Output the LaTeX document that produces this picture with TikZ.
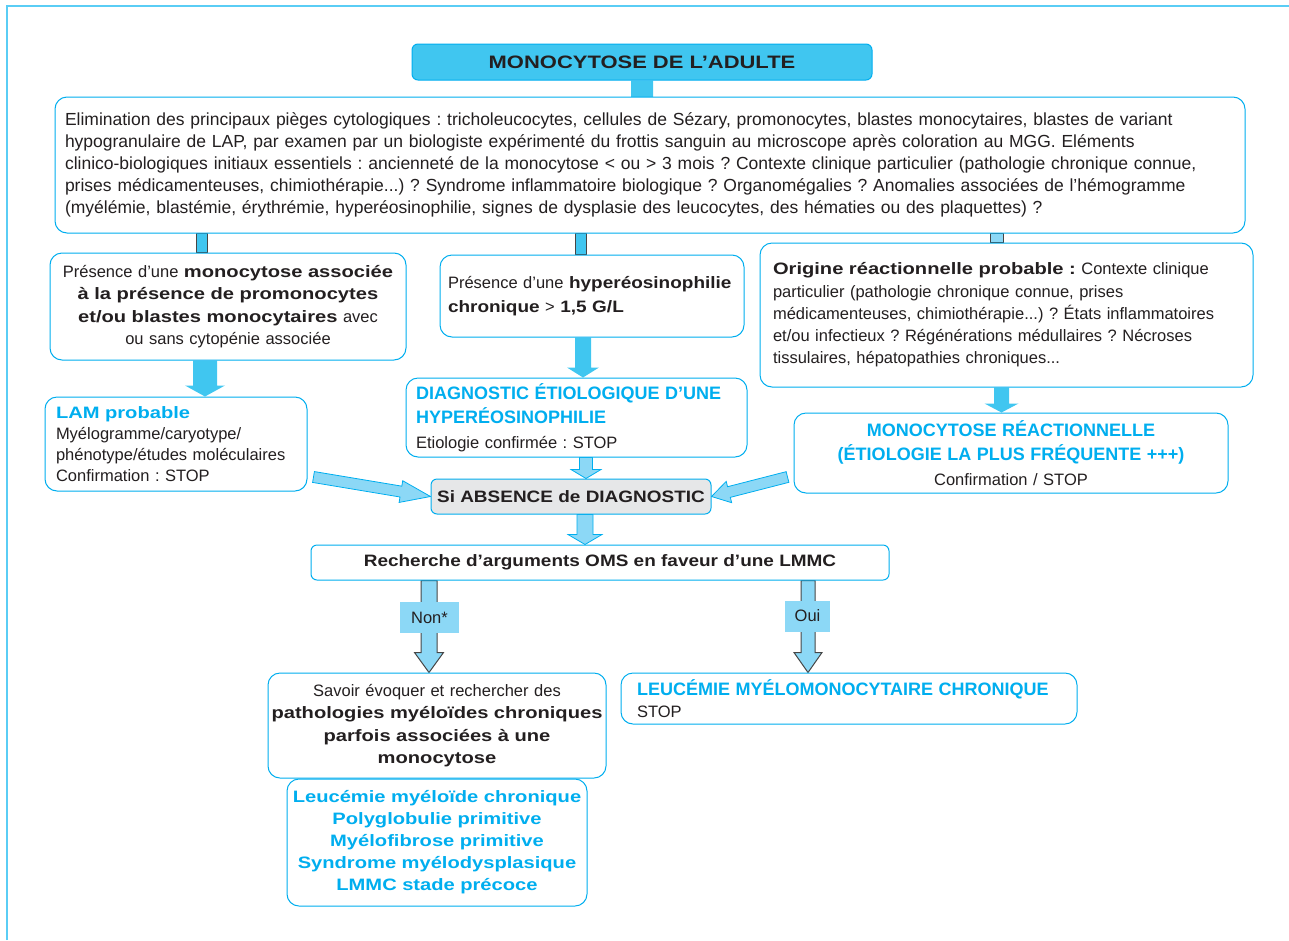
\documentclass[tikz,border=0pt]{standalone}
\usepackage{fontspec}
\setmainfont{Liberation Sans}
\newfontfamily\heavyfont{Liberation Sans}[FakeStretch=1.22]
\newfontfamily\midfont{Liberation Sans}[FakeStretch=1.15]
\usepackage{tikz}
\usetikzlibrary{calc,backgrounds}
\frenchspacing

\definecolor{cyanline}{RGB}{0,174,239}
\definecolor{titlefill}{RGB}{64,198,240}
\definecolor{arrowfill}{RGB}{140,216,246}
\definecolor{grayfill}{RGB}{230,231,232}
\definecolor{framecol}{RGB}{90,205,245}
\definecolor{textgray}{RGB}{35,31,32}
\definecolor{stubline}{RGB}{70,70,70}

\newcommand{\hv}[1]{{\heavyfont\bfseries #1}}
\newcommand{\md}[1]{{\midfont\bfseries #1}}
\newcommand{\bh}[1]{{\fontsize{18}{24}\selectfont\bfseries\color{cyanline}#1}}
\newcommand{\bhv}[1]{{\heavyfont\bfseries\color{cyanline}#1}}

% block arrow: [style]{start}{end}{half shaft}{half head}{head length}
\newcommand{\fatarrow}[6][]{%
  \coordinate (fa-s) at #2;
  \coordinate (fa-e) at #3;
  \coordinate (fa-c) at ($(fa-e)!#6!(fa-s)$);
  \draw[#1] ($(fa-s)!#4!90:(fa-e)$) -- ($(fa-c)!#4!90:(fa-e)$)
    -- ($(fa-c)!#5!90:(fa-e)$) -- (fa-e) -- ($(fa-c)!#5!-90:(fa-e)$)
    -- ($(fa-c)!#4!-90:(fa-e)$) -- ($(fa-s)!#4!-90:(fa-e)$) -- cycle;
}

\begin{document}
\begin{tikzpicture}[x=1pt,y=-1pt,
    every node/.style={text=textgray,font=\fontsize{16.5}{22.5}\selectfont},
    box/.style={draw=cyanline,line width=1pt,rounded corners=12pt,fill=white,inner ysep=0pt},
    flatbox/.style={box,rounded corners=6pt,font=\fontsize{16.5}{20}\midfont\bfseries},
    lbl/.style={fill=arrowfill,inner sep=0pt,minimum height=31pt},
    fatA/.style={fill=titlefill,draw=none},
    fatB/.style={fill=arrowfill,draw=cyanline,line width=0.8pt},
    fatC/.style={fill=arrowfill,draw=stubline,line width=1pt},
    stub/.style={fill=titlefill,draw=stubline,line width=1pt}]

  \useasboundingbox (0,0) rectangle (1289,940);

  % outer frame
  \draw[framecol,line width=2pt] (7,940) -- (7,6) -- (1289,6);

  % title
  \node[flatbox,fill=titlefill,minimum width=460pt,minimum height=36pt,
        font=\fontsize{18}{20}\heavyfont\bfseries] (title) at (642,62) {MONOCYTOSE DE L’ADULTE};

  % first screening
  \node[box,align=left,text width=1170pt,inner xsep=10pt,minimum height=136pt,
        font=\fontsize{17.5}{22}\selectfont] (elim) at (650,165)
    {Elimination des principaux pièges cytologiques : tricholeucocytes, cellules de Sézary, promonocytes, blastes monocytaires, blastes de variant\\
     hypogranulaire de LAP, par examen par un biologiste expérimenté du frottis sanguin au microscope après coloration au MGG. Eléments\\
     clinico-biologiques initiaux essentiels : ancienneté de la monocytose < ou > 3 mois ? Contexte clinique particulier (pathologie chronique connue,\\
     prises médicamenteuses, chimiothérapie...) ? Syndrome inflammatoire biologique ? Organomégalies ? Anomalies associées de l’hémogramme\\
     (myélémie, blastémie, érythrémie, hyperéosinophilie, signes de dysplasie des leucocytes, des hématies ou des plaquettes) ?};

  % three branches
  \node[box,align=center,text width=350pt,inner xsep=3pt,minimum height=107pt] (boxA) at (228,306.5)
    {Présence d’une \hv{monocytose associée}\\ \hv{à la présence de promonocytes}\\
     \hv{et/ou blastes monocytaires} avec\\ ou sans cytopénie associée};
  \node[box,align=left,text width=288pt,inner xsep=8pt,minimum height=82pt,
        font=\fontsize{16.5}{24}\selectfont] (boxB) at (592,296)
    {Présence d’une \md{hyperéosinophilie}\\ \md{chronique} > \md{1,5 G/L}};
  \node[box,align=left,text width=467pt,inner xsep=13pt,minimum height=144pt,
        font=\fontsize{16.5}{22.3}\selectfont] (boxC) at (1006.5,315)
    {\hv{Origine réactionnelle probable :} Contexte clinique\\
     particulier (pathologie chronique connue, prises\\
     médicamenteuses, chimiothérapie...) ? États inflammatoires\\
     et/ou infectieux ? Régénérations médullaires ? Nécroses\\
     tissulaires, hépatopathies chroniques...};

  % conclusions
  \node[box,align=left,text width=240pt,inner xsep=11pt,minimum height=94pt,
        font=\fontsize{16.5}{21}\selectfont] (lam) at (176,444)
    {\bhv{LAM probable}\\ Myélogramme/caryotype/\\ phénotype/études moléculaires\\ Confirmation : STOP};
  \node[box,align=left,text width=321pt,inner xsep=10pt,minimum height=79pt,
        font=\fontsize{16.5}{24.5}\selectfont] (diag) at (576.5,417.5)
    {\bh{DIAGNOSTIC ÉTIOLOGIQUE D’UNE}\\ \bh{HYPERÉOSINOPHILIE}\\ Etiologie confirmée : STOP};
  \node[box,align=center,text width=428pt,inner xsep=3pt,minimum height=80pt,
        font=\fontsize{16.5}{24.5}\selectfont] (mr) at (1011,453)
    {\bh{MONOCYTOSE RÉACTIONNELLE}\\ \bh{(ÉTIOLOGIE LA PLUS FRÉQUENTE +++)}\\ Confirmation / STOP};

  \node[flatbox,fill=grayfill,minimum width=280pt,minimum height=35pt] (abs) at (571,496.5)
    {Si ABSENCE de DIAGNOSTIC};
  \node[flatbox,minimum width=578pt,minimum height=35pt] (rech) at (600,562.5)
    {Recherche d’arguments OMS en faveur d’une LMMC};

  % outcomes
  \node[box,align=center,text width=334pt,inner xsep=2pt,minimum height=105pt] (sav) at (437,725.5)
    {Savoir évoquer et rechercher des\\ \hv{pathologies myéloïdes chroniques}\\
     \hv{parfois associées à une}\\ \hv{monocytose}};
  \node[box,align=center,text width=294pt,inner xsep=3pt,minimum height=127pt,
        font=\fontsize{16.5}{22}\selectfont] (list) at (437,842.5)
    {\bhv{Leucémie myéloïde chronique}\\ \bhv{Polyglobulie primitive}\\ \bhv{Myélofibrose primitive}\\
     \bhv{Syndrome myélodysplasique}\\ \bhv{LMMC stade précoce}};
  \node[box,align=left,text width=424pt,inner xsep=16pt,minimum height=51pt,
        font=\fontsize{16.5}{22}\selectfont] (lmmc) at (849,698.5)
    {\bh{LEUCÉMIE MYÉLOMONOCYTAIRE CHRONIQUE}\\ STOP};

  % branch labels
  \node[lbl,minimum width=59pt] (non) at (429.5,617.5) {Non*};
  \node[lbl,minimum width=45pt] (oui) at (807.5,616) {Oui};

  % arrows behind the boxes
  \begin{pgfonlayer}{background}
    \fatarrow[fatA]{(title.south)}{($(title.south)+(0,28)$)}{11pt}{18pt}{10pt}
    \draw[stub] ([xshift=-32pt]boxA.north) rectangle ([xshift=-21pt]boxA.north |- elim.south);
    \draw[stub] ([xshift=-17pt]boxB.north) rectangle ([xshift=-6pt]boxB.north |- elim.south);
    \draw[stub,fill=arrowfill] ([xshift=-16.5pt]boxC.north) rectangle ([xshift=-3.5pt]boxC.north |- elim.south);

    \fatarrow[fatA]{([xshift=-23pt]boxA.south)}{([xshift=-23pt]boxA.south |- lam.north)}{12pt}{20pt}{11pt}
    \fatarrow[fatA]{([xshift=-9pt]boxB.south)}{([xshift=-9pt]boxB.south |- diag.north)}{8pt}{16pt}{10pt}
    \fatarrow[fatA]{([xshift=-5pt]boxC.south)}{([xshift=-5pt]boxC.south |- mr.north)}{7.5pt}{17pt}{9pt}

    \fatarrow[fatB]{([xshift=9.5pt]diag.south)}{([xshift=9.5pt]diag.south |- abs.north)}{6.5pt}{15pt}{9pt}
    \fatarrow[fatB]{($(lam.east)+(6,33)$)}{(abs.west)}{5.5pt}{11pt}{30pt}
    \fatarrow[fatB]{($(mr.west)+(-6,24)$)}{(abs.east)}{5.5pt}{11pt}{18pt}
    \fatarrow[fatB]{([xshift=14pt]abs.south)}{([xshift=14pt]abs.south |- rech.north)}{8pt}{17pt}{10pt}

    \fatarrow[fatC]{([xshift=-171pt]rech.south)}{([xshift=-171pt]rech.south |- sav.north)}{8pt}{14.5pt}{20pt}
    \fatarrow[fatC]{([xshift=208pt]rech.south)}{([xshift=208pt]rech.south |- lmmc.north)}{7pt}{14pt}{20pt}
  \end{pgfonlayer}

\end{tikzpicture}
\end{document}
